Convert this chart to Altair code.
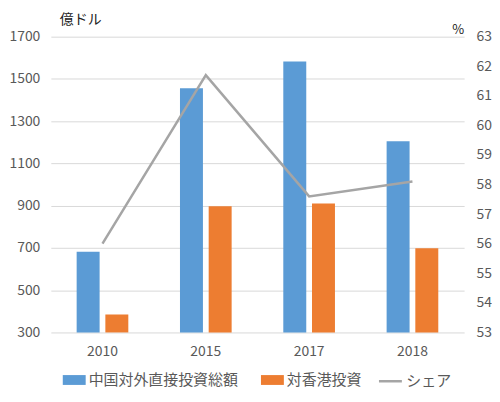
import altair as alt
import pandas as pd

# データ
years = ["2010", "2015", "2017", "2018"]
total_fdi = [682, 1456, 1583, 1205]
hk_fdi = [385, 897, 910, 698]
share = [56.0, 61.7, 57.6, 58.1]

series_names = ["中国対外直接投資総額", "対香港投資"]
bar_colors = ["#5B9BD5", "#ED7D31"]
line_name = "シェア"
line_color = "#A5A5A5"

font = "Noto Sans CJK JP"
text_gray = "#595959"

W, H = 415, 297

bars_df = pd.DataFrame({
    "年": years * 2,
    "系列": [series_names[0]] * len(years) + [series_names[1]] * len(years),
    "金額": total_fdi + hk_fdi,
})
line_df = pd.DataFrame({"年": years, "シェア": share, "系列": line_name})

x = alt.X("年:N", sort=years,
          scale=alt.Scale(paddingInner=0.5, paddingOuter=0.25),
          axis=alt.Axis(title=None, labelAngle=0, ticks=False, domain=False,
                        labelPadding=12, labelFontSize=14, labelColor=text_gray))

bars = alt.Chart(bars_df).mark_bar().encode(
    x=x,
    xOffset=alt.XOffset("系列:N", sort=series_names, scale=alt.Scale(paddingInner=0.2)),
    y=alt.Y("金額:Q",
            scale=alt.Scale(domain=[300, 1700], zero=False),
            axis=alt.Axis(values=list(range(300, 1701, 200)), format="d", title=None,
                          ticks=False, domain=False,
                          grid=True, gridColor="#D9D9D9", labelPadding=11,
                          labelFontSize=14, labelColor=text_gray)),
    y2=alt.datum(300),
    color=alt.Color("系列:N", sort=series_names,
                    scale=alt.Scale(domain=series_names, range=bar_colors),
                    legend=alt.Legend(title=None, orient="none", direction="horizontal",
                                      legendX=12, legendY=333,
                                      symbolType="M-1,-0.43H1V0.43H-1Z", symbolSize=529,
                                      symbolStrokeWidth=0, labelFontSize=15,
                                      labelOffset=3, labelColor=text_gray,
                                      columnPadding=22)),
)

line = alt.Chart(line_df).mark_line(strokeWidth=2.5, color=line_color).encode(
    x=x,
    y=alt.Y("シェア:Q",
            scale=alt.Scale(domain=[53, 63], zero=False),
            axis=alt.Axis(orient="right", values=list(range(53, 64)), format="d", title=None,
                          ticks=False, domain=False, grid=False, labelPadding=12,
                          labelFontSize=14, labelColor=text_gray)),
    stroke=alt.Stroke("系列:N",
                      scale=alt.Scale(domain=[line_name], range=[line_color]),
                      legend=alt.Legend(title=None, orient="none", direction="horizontal",
                                        legendX=328, legendY=333,
                                        symbolType="stroke", symbolSize=529,
                                        symbolStrokeWidth=2.5, labelFontSize=15,
                                        labelOffset=3, labelColor=text_gray)),
)

# 軸の単位（左：億ドル、右：%）
unit_left = alt.Chart(pd.DataFrame({"単位": ["億ドル"]})).mark_text(
    align="left", baseline="middle", fontSize=14, color="#222222"
).encode(x=alt.value(9), y=alt.value(-17), text="単位:N")

unit_right = alt.Chart(pd.DataFrame({"単位": ["%"]})).mark_text(
    align="center", baseline="middle", fontSize=13, color="#222222"
).encode(x=alt.value(W - 6), y=alt.value(-7), text="単位:N")

chart = alt.layer(bars, line, unit_left, unit_right).resolve_scale(
    y="independent"
).properties(
    width=W,
    height=H,
    padding={"left": 0, "top": 4, "right": 0, "bottom": 0},
).configure(
    font=font,
).configure_view(
    stroke=None
)

chart.save("out.html", embed_options={"renderer": "svg", "actions": False})
